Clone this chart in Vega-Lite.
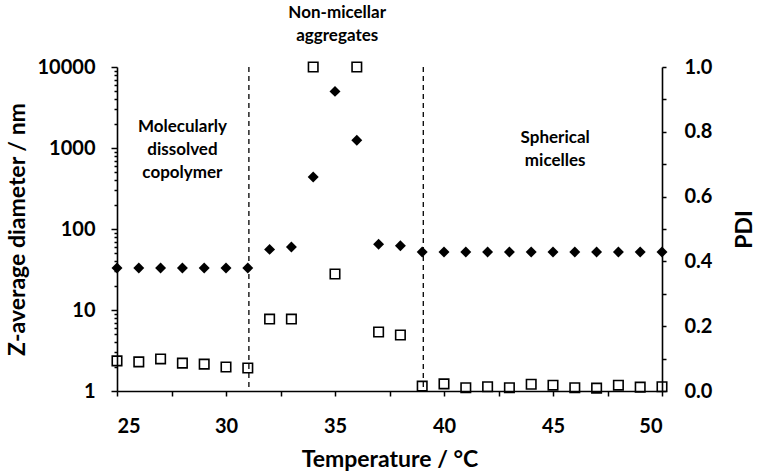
{
  "$schema": "https://vega.github.io/schema/vega-lite/v6.json",
  "width": 545,
  "height": 324,
  "autosize": {"type": "none"},
  "padding": {"left": 117, "top": 67, "right": 97, "bottom": 82},
  "background": "white",
  "view": {"stroke": null},
  "config": {
    "font": "Lato",
    "axis": {
      "grid": false,
      "domainColor": "black",
      "domainWidth": 1.6,
      "tickColor": "black",
      "tickWidth": 1.5,
      "labelFont": "Lato",
      "labelFontWeight": "bold",
      "labelFontSize": 20,
      "labelColor": "black",
      "titleFont": "Lato",
      "titleFontWeight": "bold",
      "titleFontSize": 23,
      "titleColor": "black"
    }
  },
  "datasets": {
    "points": [
      {"T": 25, "Z": 33, "PDI": 0.093},
      {"T": 26, "Z": 33, "PDI": 0.090},
      {"T": 27, "Z": 33, "PDI": 0.099},
      {"T": 28, "Z": 33, "PDI": 0.086},
      {"T": 29, "Z": 33, "PDI": 0.083},
      {"T": 30, "Z": 33, "PDI": 0.074},
      {"T": 31, "Z": 33, "PDI": 0.071},
      {"T": 32, "Z": 56, "PDI": 0.222},
      {"T": 33, "Z": 60, "PDI": 0.222},
      {"T": 34, "Z": 438, "PDI": 1.0},
      {"T": 35, "Z": 5000, "PDI": 0.361},
      {"T": 36, "Z": 1250, "PDI": 1.0},
      {"T": 37, "Z": 65, "PDI": 0.182},
      {"T": 38, "Z": 62, "PDI": 0.173},
      {"T": 39, "Z": 52, "PDI": 0.015},
      {"T": 40, "Z": 52, "PDI": 0.022},
      {"T": 41, "Z": 52, "PDI": 0.010},
      {"T": 42, "Z": 52, "PDI": 0.013},
      {"T": 43, "Z": 52, "PDI": 0.010},
      {"T": 44, "Z": 52, "PDI": 0.021},
      {"T": 45, "Z": 52, "PDI": 0.018},
      {"T": 46, "Z": 52, "PDI": 0.010},
      {"T": 47, "Z": 52, "PDI": 0.009},
      {"T": 48, "Z": 52, "PDI": 0.018},
      {"T": 49, "Z": 52, "PDI": 0.012},
      {"T": 50, "Z": 52, "PDI": 0.013}
    ],
    "boundaries": [
      {"T": 31.05},
      {"T": 39.05}
    ],
    "labels": [
      {"T": 28.0, "y": 0.815, "text": "Molecularly\ndissolved\ncopolymer"},
      {"T": 35.1, "y": 1.168, "text": "Non-micellar\naggregates"},
      {"T": 45.1, "y": 0.781, "text": "Spherical\nmicelles"}
    ]
  },
  "layer": [
    {
      "data": {"name": "boundaries"},
      "mark": {"type": "rule", "color": "black", "strokeWidth": 1.3, "strokeDash": [5, 4]},
      "encoding": {
        "x": {"field": "T", "type": "quantitative", "scale": {"domain": [25, 50], "nice": false}}
      }
    },
    {
      "data": {"name": "points"},
      "mark": {"type": "point", "shape": "diamond", "filled": true, "color": "black", "size": 120, "opacity": 1},
      "encoding": {
        "x": {
          "field": "T", "type": "quantitative",
          "scale": {"domain": [25, 50], "nice": false},
          "title": "Temperature / °C",
          "axis": {
            "values": [25, 27.5, 30, 32.5, 35, 37.5, 40, 42.5, 45, 47.5, 50],
            "labelExpr": "datum.value % 5 == 0 ? datum.label : ''",
            "tickSize": 5,
            "labelPadding": 20,
            "titlePadding": 12
          }
        },
        "y": {
          "field": "Z", "type": "quantitative",
          "scale": {"type": "log", "domain": [1, 10000], "nice": false},
          "title": "Z-average diameter / nm",
          "axis": {
            "orient": "left",
            "values": [1,2,3,4,5,6,7,8,9,10,20,30,40,50,60,70,80,90,100,200,300,400,500,600,700,800,900,1000,2000,3000,4000,5000,6000,7000,8000,9000,10000],
            "labelExpr": "(datum.value == 1 || datum.value == 10 || datum.value == 100 || datum.value == 1000 || datum.value == 10000) ? format(datum.value, 'd') : ''",
            "tickSize": {"condition": {"test": "datum.value == 1 || datum.value == 10 || datum.value == 100 || datum.value == 1000 || datum.value == 10000", "value": 6}, "value": 3},
            "labelPadding": 16,
            "titlePadding": 8
          }
        }
      }
    },
    {
      "data": {"name": "points"},
      "mark": {"type": "point", "shape": "square", "filled": false, "color": "black", "strokeWidth": 1.6, "size": 90, "opacity": 1},
      "encoding": {
        "x": {"field": "T", "type": "quantitative", "scale": {"domain": [25, 50], "nice": false}},
        "y": {
          "field": "PDI", "type": "quantitative",
          "scale": {"domain": [0, 1], "nice": false},
          "title": "PDI",
          "axis": {
            "orient": "right",
            "values": [0, 0.1, 0.2, 0.3, 0.4, 0.5, 0.6, 0.7, 0.8, 0.9, 1.0],
            "format": ".1f",
            "labelExpr": "round(datum.value * 10) % 2 == 0 ? datum.label : ''",
            "tickSize": 4,
            "labelPadding": 18,
            "titleAngle": 270,
            "titlePadding": 45
          }
        }
      }
    },
    {
      "data": {"name": "labels"},
      "mark": {"type": "text", "font": "Lato", "fontWeight": "bold", "fontSize": 17, "lineHeight": 23, "align": "center", "baseline": "middle", "color": "black", "lineBreak": "\n"},
      "encoding": {
        "x": {"field": "T", "type": "quantitative", "scale": {"domain": [25, 50], "nice": false}},
        "y": {"field": "y", "type": "quantitative", "scale": {"domain": [0, 1], "nice": false}, "axis": null},
        "text": {"field": "text"}
      }
    }
  ],
  "resolve": {"scale": {"y": "independent"}}
}
